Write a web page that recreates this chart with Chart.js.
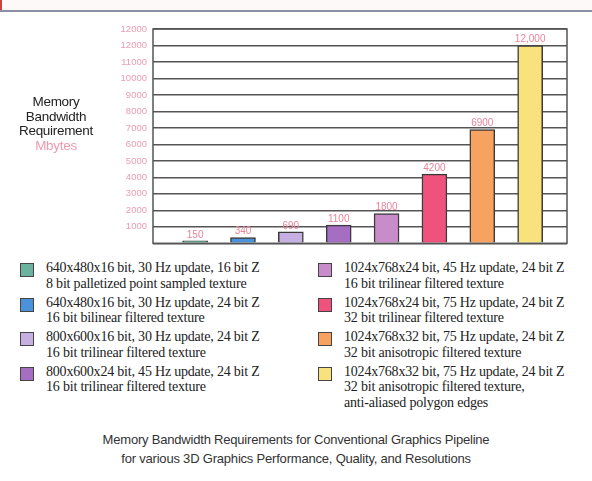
<!DOCTYPE html>
<html>
<head>
<meta charset="utf-8">
<script src="https://cdn.jsdelivr.net/npm/chart.js@4.4.0/dist/chart.umd.min.js"></script>
<style>
  body { margin: 0; width: 592px; height: 481px; background: #fff; position: relative; overflow: hidden; }
  #topBand { position: absolute; left: 0; top: 0; width: 592px; height: 10px; background: #fdf9f9; border-bottom: 2px solid #8a8fa6; }
  #topBand::before { content: ""; position: absolute; left: 0; top: 0; width: 2px; height: 10px; background: #d04040; }
  #chartBox { position: absolute; left: 0; top: 0; width: 592px; height: 255px; }
  #chartBox canvas { width: 592px !important; height: 255px !important; }
  #yTitle { position: absolute; left: -4px; top: 95px; width: 120px; text-align: center; font: 13.5px "Liberation Sans", Arial, sans-serif; line-height: 14.5px; color: #222; letter-spacing: -0.3px; }
  #yTitle .unit { color: #ec9aae; }
  .legendCol { position: absolute; top: 260px; width: 290px; font: 14px "Liberation Serif", "Times New Roman", serif; color: #222; letter-spacing: -0.2px; }
  .legendItem { position: relative; padding-left: 26px; line-height: 15.5px; height: 34.5px; }
  .swatch { position: absolute; left: 0; top: 3px; width: 12px; height: 12px; border: 1.5px solid #444; }
  #caption { position: absolute; left: 0; top: 431px; width: 592px; text-align: center; font: 13px "Liberation Sans", Arial, sans-serif; color: #333; line-height: 18.5px; letter-spacing: -0.2px; }
</style>
</head>
<body>
<div id="topBand"></div>
<div id="chartBox"><canvas id="bandwidthChart" width="592" height="255"></canvas></div>
<div id="yTitle">Memory<br>Bandwidth<br>Requirement<br><span class="unit">Mbytes</span></div>
<div class="legendCol" id="legendLeft" style="left:20px"></div>
<div class="legendCol" id="legendRight" style="left:318px"></div>
<div id="caption">Memory Bandwidth Requirements for Conventional Graphics Pipeline<br>for various 3D Graphics Performance, Quality, and Resolutions</div>

<script>
// Data
const configs = [
    ["640x480x16 bit, 30 Hz update, 16 bit Z", "8 bit palletized point sampled texture"],
    ["640x480x16 bit, 30 Hz update, 24 bit Z", "16 bit bilinear filtered texture"],
    ["800x600x16 bit, 30 Hz update, 24 bit Z", "16 bit trilinear filtered texture"],
    ["800x600x24 bit, 45 Hz update, 24 bit Z", "16 bit trilinear filtered texture"],
    ["1024x768x24 bit, 45 Hz update, 24 bit Z", "16 bit trilinear filtered texture"],
    ["1024x768x24 bit, 75 Hz update, 24 bit Z", "32 bit trilinear filtered texture"],
    ["1024x768x32 bit, 75 Hz update, 24 bit Z", "32 bit anisotropic filtered texture"],
    ["1024x768x32 bit, 75 Hz update, 24 bit Z", "32 bit anisotropic filtered texture,", "anti-aliased polygon edges"],
];
const bandwidth = [150, 340, 690, 1100, 1800, 4200, 6900, 12000];
const valueLabels = ["150", "340", "690", "1100", "1800", "4200", "6900", "12,000"];
const barColors = ["#6cb39f", "#4b92da", "#c6b0e2", "#a66ec2", "#c98ccb", "#f0527e", "#f8a262", "#f8e27c"];
const yTickLabels = ["1000", "2000", "3000", "4000", "5000", "6000", "7000", "8000", "9000", "10000", "11000", "12000", "12000"];

// Legend (HTML, built from the arrays)
configs.forEach(function(lines, i) {
    const col = document.getElementById(i < 4 ? "legendLeft" : "legendRight");
    const item = document.createElement("div");
    item.className = "legendItem";
    const sw = document.createElement("span");
    sw.className = "swatch";
    sw.style.background = barColors[i];
    item.appendChild(sw);
    lines.forEach(function(line, j) {
        if (j > 0) item.appendChild(document.createElement("br"));
        item.appendChild(document.createTextNode(line));
    });
    col.appendChild(item);
});

// Frame around the plot area
const framePlugin = {
    id: "frame",
    afterDatasetsDraw(chart) {
        const a = chart.chartArea;
        const ctx = chart.ctx;
        ctx.save();
        ctx.strokeStyle = "#555";
        ctx.lineWidth = 1.5;
        ctx.strokeRect(a.left, a.top, a.right - a.left, a.bottom - a.top);
        ctx.restore();
    }
};

// Value labels above bars
const valueLabelPlugin = {
    id: "valueLabels",
    afterDatasetsDraw(chart) {
        const ctx = chart.ctx;
        const meta = chart.getDatasetMeta(0);
        ctx.save();
        ctx.font = "10px 'Liberation Sans', Arial, sans-serif";
        ctx.fillStyle = "#e8849a";
        ctx.textAlign = "center";
        ctx.textBaseline = "bottom";
        meta.data.forEach(function(bar, i) {
            ctx.fillText(valueLabels[i], bar.x, bar.y - 1);
        });
        ctx.restore();
    }
};

const ctx = document.getElementById("bandwidthChart").getContext("2d");
new Chart(ctx, {
    type: "bar",
    data: {
        datasets: [
            {
                data: bandwidth.map((v, i) => ({ x: i + 1, y: v })),
                backgroundColor: barColors,
                borderColor: "#3a3a3a",
                borderWidth: 1.5,
                barThickness: 25,
            },
        ],
    },
    options: {
        responsive: false,
        animation: false,
        layout: {
            padding: { top: 29, right: 25, bottom: 7, left: 0 },
        },
        plugins: {
            legend: { display: false },
            tooltip: { enabled: false },
        },
        scales: {
            x: {
                type: "linear",
                display: false,
                offset: false,
                min: 0.12,
                max: 8.77,
            },
            y: {
                min: 0,
                max: 13000,
                afterFit(scale) {
                    scale.width = 153;
                },
                grid: {
                    color: "#555",
                    lineWidth: 1.5,
                    drawTicks: false,
                },
                border: { display: false },
                ticks: {
                    stepSize: 1000,
                    padding: 6,
                    color: "#eb9cb0",
                    font: { size: 9.5, family: "'Liberation Sans', Arial, sans-serif" },
                    callback: function(value) {
                        return value === 0 ? "" : yTickLabels[value / 1000 - 1];
                    },
                },
            },
        },
    },
    plugins: [framePlugin, valueLabelPlugin],
});
</script>
</body>
</html>
